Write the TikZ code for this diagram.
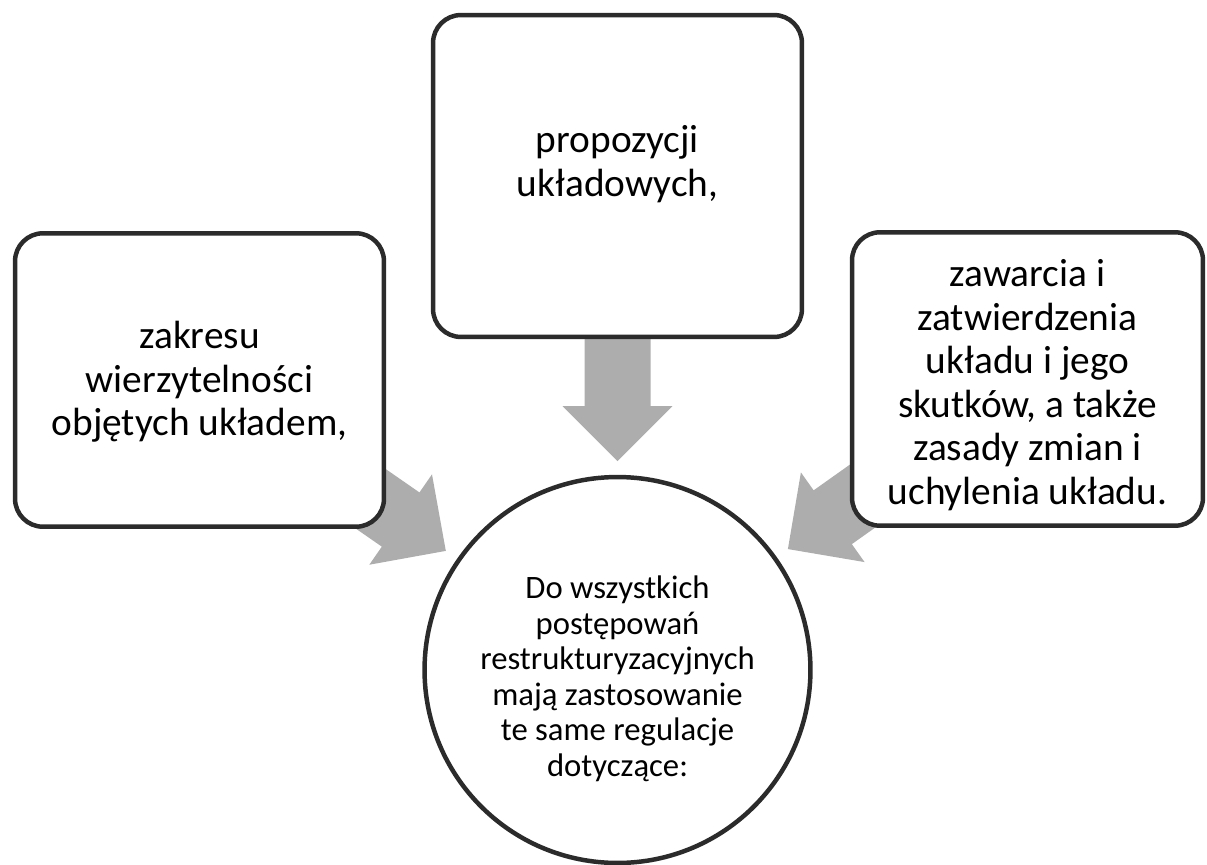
\documentclass[tikz,border=0pt]{standalone}
\usepackage{fontspec}
\setmainfont{Carlito}
\usetikzlibrary{calc, backgrounds}
\definecolor{boxline}{RGB}{43,43,43}
\definecolor{arrowgray}{RGB}{173,173,173}
% block arrow from #1 to #2
\newcommand{\blockarrow}[2]{
	\coordinate (#2base) at ($(#2)!1.1cm!(#1)$);
	\fill[arrowgray] ($(#1)!0.66cm!90:(#2)$) -- ($(#2base)!0.66cm!90:(#2)$) -- ($(#2base)!1.1cm!90:(#2)$)
		-- (#2) -- ($(#2base)!1.1cm!-90:(#2)$) -- ($(#2base)!0.66cm!-90:(#2)$) -- ($(#1)!0.66cm!-90:(#2)$) -- cycle;
}

\begin{document}
\begin{tikzpicture}[x=0.02cm, y=-0.02cm,
	itembox/.style={draw=boxline, line width=2.55pt, fill=white, rounded corners=0.56cm, minimum width=7.38cm, minimum height=5.87cm, inner sep=0pt},
	itemtext/.style={align=center, font=\fontsize{22.4}{24.8}\selectfont},
	hubtext/.style={align=center, font=\fontsize{18.6}{20.2}\selectfont}]
	\useasboundingbox (0,0) rectangle (1207,865);

	\node[itembox] (claims) at (199.5,380) {};
	\node[itemtext] (claimtext) at (199.5,382) {zakresu\\wierzytelności\\objętych układem,};
	\node[itembox, minimum height=6.44cm] (proposals) at (617.5,176) {};
	\node[itemtext] (proposaltext) at (617.5,164) {propozycji\\układowych,};
	\node[itembox, minimum width=7.02cm] (approval) at (1027.5,379) {};
	\node[itemtext] (approvaltext) at (1027.5,385) {zawarcia i\\zatwierdzenia\\układu i jego\\skutków, a także\\zasady zmian i\\uchylenia układu.};

	\node[circle, draw=boxline, line width=2.55pt, fill=white, minimum size=7.72cm, inner sep=0pt] (hub) at (617.5,670) {};
	\node[hubtext] (hubtext) at (617.5,679) {Do wszystkich\\postępowań\\restrukturyzacyjnych\\mają zastosowanie\\te same regulacje\\dotyczące:};

	\begin{scope}[on background layer]
		\coordinate (claimtip) at ($(hub.center)!4.18cm!(claims.center)$);
		\coordinate (proposaltip) at ($(hub.center)!4.18cm!(proposals.center)$);
		\coordinate (approvaltip) at ($(hub.center)!4.18cm!(approval.center)$);
		\blockarrow{claims.center}{claimtip}
		\blockarrow{proposals.center}{proposaltip}
		\blockarrow{approval.center}{approvaltip}
	\end{scope}
\end{tikzpicture}
\end{document}
